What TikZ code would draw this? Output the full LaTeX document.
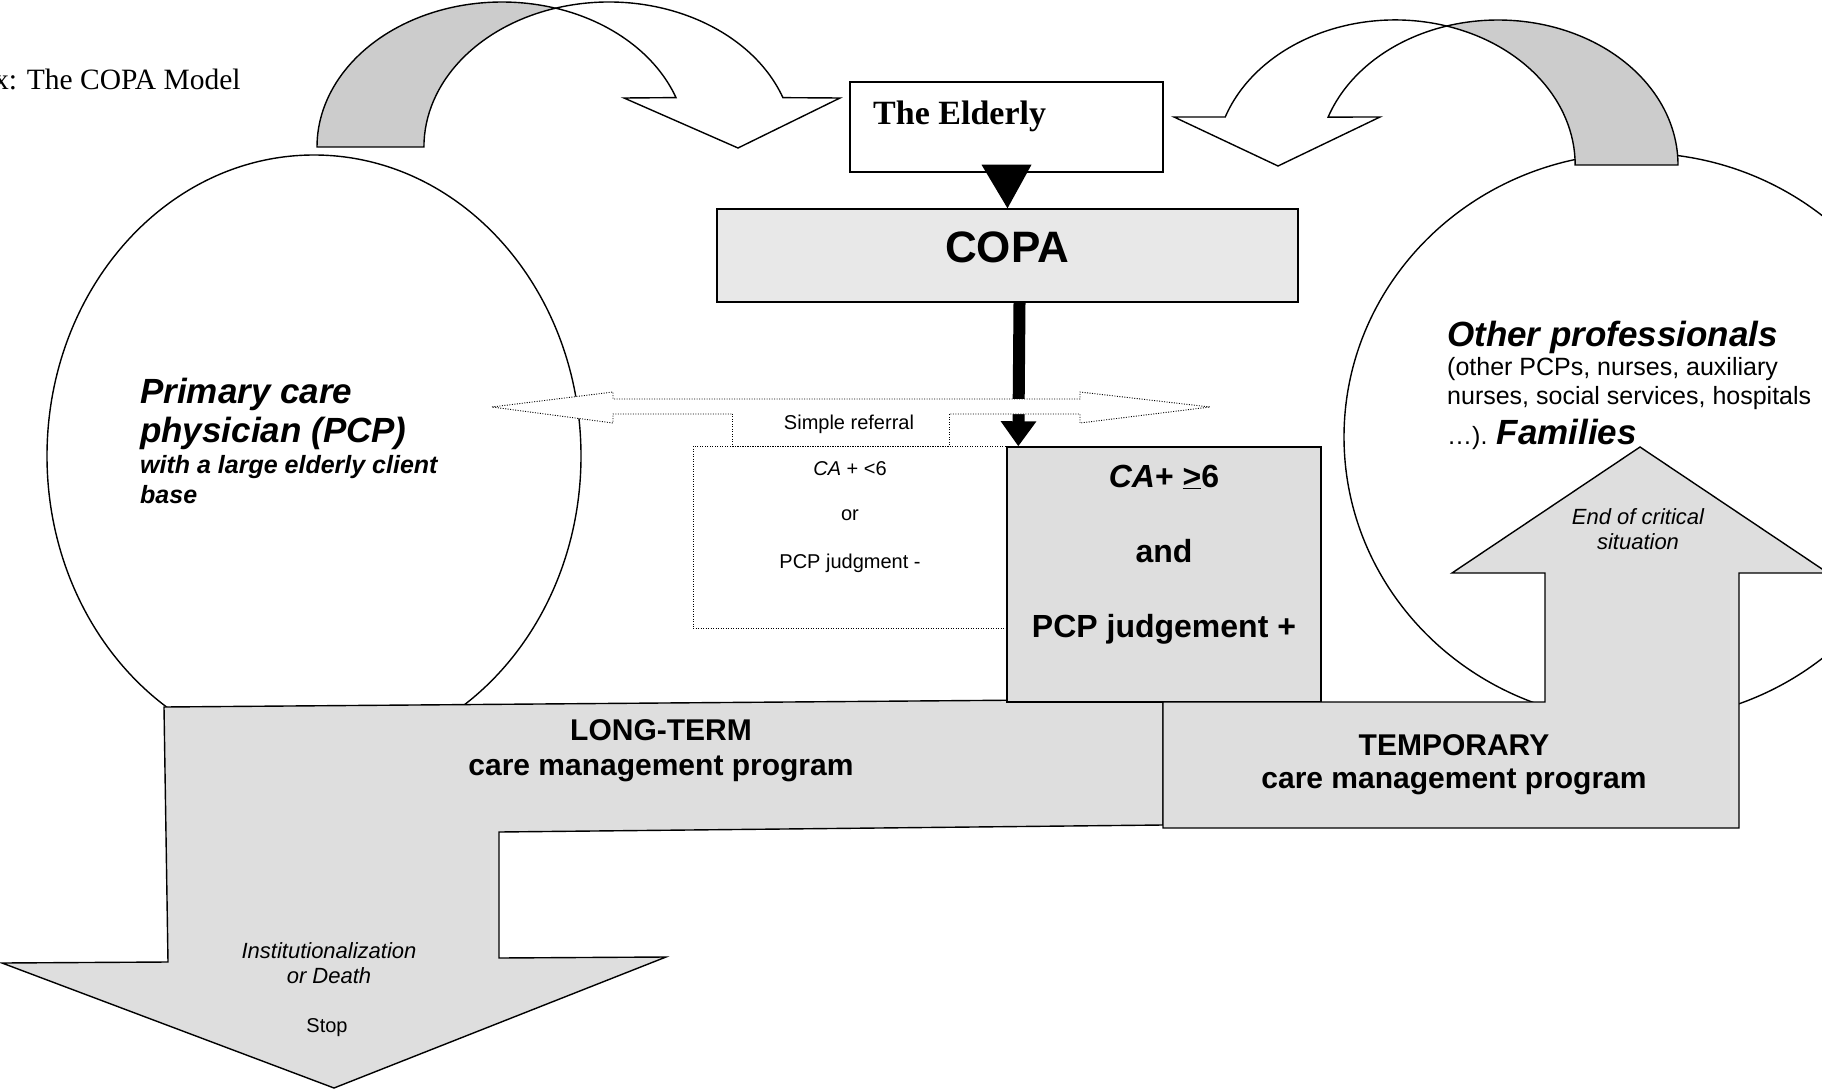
\documentclass[tikz,border=0pt]{standalone}
\usepackage{fontspec}
\setmainfont{Liberation Serif}
\setsansfont{Liberation Sans}
\usetikzlibrary{arrows.meta}
\definecolor{ribbongrey}{gray}{0.80}
\definecolor{copagrey}{gray}{0.91}
\definecolor{boxgrey}{gray}{0.87}
\newcommand{\setfs}[1]{\fontsize{#1}{#1}\selectfont}

\begin{document}
\begin{tikzpicture}[x=1pt, y=-1pt, font=\sffamily,
		outline/.style={draw, line width=1.4pt},
		dotline/.style={draw, line width=0.9pt, dash pattern=on 1pt off 1.5pt},
		txt/.style={inner sep=0pt, anchor=base},
		txtw/.style={inner sep=0pt, anchor=base west}]
		\useasboundingbox (0,0) rectangle (1822,1091);

		\node[txtw] (title) at (-6,90) {\rmfamily\setfs{29.5}x: The COPA Model};

		\draw[line width=1.4pt] (314,456) ellipse [x radius=267, y radius=301];
		\draw[line width=1.4pt] (1638,437) ellipse [x radius=294, y radius=284];

		% curved arrow, left
		\filldraw[outline, fill=ribbongrey] (317,147)
			arc[start angle=180, end angle=286.8, x radius=185, y radius=145]
			arc[start angle=253.2, end angle=180, x radius=185, y radius=145] -- cycle;
		\filldraw[outline, fill=white] (555.5,8.2)
			arc[start angle=253.2, end angle=340.1, x radius=185, y radius=145]
			-- (840,98) -- (738,148) -- (624,98) -- (676,97.6)
			arc[start angle=340.1, end angle=286.8, x radius=185, y radius=145] -- cycle;

		% curved arrow, right
		\filldraw[outline, fill=ribbongrey] (1678,165)
			arc[start angle=360, end angle=253.4, x radius=180, y radius=145]
			arc[start angle=286.6, end angle=360, x radius=180, y radius=145] -- cycle;
		\filldraw[outline, fill=white] (1446.5,26)
			arc[start angle=286.6, end angle=199.3, x radius=180, y radius=145]
			-- (1174,117) -- (1278,166) -- (1380,117) -- (1328.1,117.1)
			arc[start angle=199.3, end angle=253.4, x radius=180, y radius=145] -- cycle;

		\node[outline, fill=white, minimum width=313, minimum height=90] (elderly) at (1006.5,127) {};
		\node[txtw] (eldtxt) at (873,125) {\rmfamily\bfseries\setfs{34}The Elderly};
		\node[outline, fill=copagrey, minimum width=581, minimum height=93] (copa) at (1007.5,255.5) {};
		\node[txt] (copatxt) at (1007,262) {\bfseries\setfs{44}COPA};
		\fill ([shift={(-25,-8)}]elderly.south) -- ([shift={(25,-8)}]elderly.south) -- (copa.north) -- cycle;

		\node[dotline, fill=white, minimum width=314, minimum height=182] (altbox) at (850,537) {};

		% long-term program
		\filldraw[outline, fill=boxgrey] (164,707) -- (1163,699) -- (1163,825) -- (499,832) -- (499,958)
			-- (666,957) -- (334,1088) -- (2,963) -- (168,962) -- cycle;
		\node[outline, fill=boxgrey, minimum width=314, minimum height=255] (ca) at (1164,574.5) {};
		% temporary program
		\filldraw[outline, fill=boxgrey] (1163,828) -- (1163,702) -- (1545,702) -- (1545,573) -- (1452,573)
			-- (1640,447) -- (1828,573) -- (1739,573) -- (1739,828) -- cycle;

		\draw[line width=12pt, -{Triangle[length=25pt, width=34pt]}] ([xshift=12pt]copa.south) -- ([xshift=12pt]ca.north west);

		\filldraw[dotline, fill=white] (492,407) -- (613,392) -- (613,399) -- (1080,399) -- (1080,392) -- (1210,407)
			-- (1080,423) -- (1080,414) -- (613,414) -- (613,423) -- cycle;
		\node[fill=white, inner sep=0pt, minimum width=216, minimum height=36] (simple) at (841,428) {};
		\draw[dotline] ([yshift=-4pt]simple.north west) -- (simple.south west)
			-- (simple.south east) -- ([yshift=-4pt]simple.north east);

		\node[txtw] (pcpA) at (140,403) {\bfseries\itshape\setfs{35}Primary care};
		\node[txtw] (pcpB) at (140,442) {\bfseries\itshape\setfs{35}physician (PCP)};
		\node[txtw] (pcpC) at (140,473) {\bfseries\itshape\setfs{25}with a large elderly client};
		\node[txtw] (pcpD) at (140,503) {\bfseries\itshape\setfs{25}base};

		\node[txtw] (othA) at (1447,346) {\bfseries\itshape\setfs{35}Other professionals};
		\node[txtw] (othB) at (1447,375) {\setfs{25}(other PCPs, nurses, auxiliary};
		\node[txtw] (othC) at (1447,404) {\setfs{25}nurses, social services, hospitals};
		\node[txtw] (othD) at (1447,444) {\setfs{25}…). \bfseries\itshape\setfs{35}Families};

		\node[txt] (simpletxt) at (849,429) {\setfs{20}Simple referral};
		\node[txt] (altA) at (850,475) {\setfs{20}\textit{CA} + <6};
		\node[txt] (altB) at (850,520) {\setfs{20}or};
		\node[txt] (altC) at (850,568) {\setfs{20}PCP judgment -};

		\node[txt] (caA) at (1164,487) {\bfseries\setfs{32}\textit{CA}+ \underline{>}6};
		\node[txt] (caB) at (1164,562) {\bfseries\setfs{32}and};
		\node[txt] (caC) at (1164,637) {\bfseries\setfs{32}PCP judgement +};

		\node[txt] (longA) at (661,740) {\bfseries\setfs{30}LONG-TERM};
		\node[txt] (longB) at (661,775) {\bfseries\setfs{30}care management program};
		\node[txt] (tempA) at (1454,755) {\bfseries\setfs{30}TEMPORARY};
		\node[txt] (tempB) at (1454,788) {\bfseries\setfs{30}care management program};

		\node[txt] (endA) at (1638,524) {\itshape\setfs{22}End of critical};
		\node[txt] (endB) at (1638,549) {\itshape\setfs{22}situation};
		\node[txt] (instA) at (329,958) {\itshape\setfs{22}Institutionalization};
		\node[txt] (instB) at (329,983) {\itshape\setfs{22}or Death};
		\node[txt] (stop) at (327,1032) {\setfs{20}Stop};
	\end{tikzpicture}
\end{document}
